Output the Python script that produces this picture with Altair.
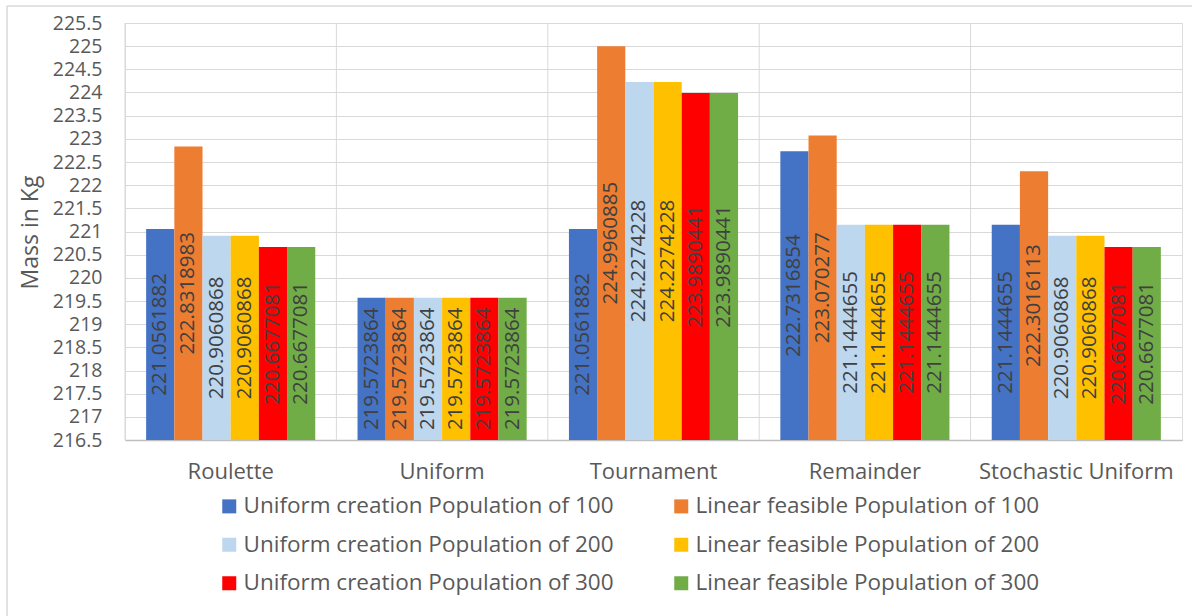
import altair as alt
import pandas as pd

# Selection methods on the x axis
methods = ["Roulette", "Uniform", "Tournament", "Remainder", "Stochastic Uniform"]

# Population set-ups, in bar order
series = [
    "Uniform creation Population of 100",
    "Linear feasible Population of 100",
    "Uniform creation Population of 200",
    "Linear feasible Population of 200",
    "Uniform creation Population of 300",
    "Linear feasible Population of 300",
]
colors = ["#4472C4", "#ED7D31", "#BDD7EE", "#FFC000", "#FF0000", "#70AD47"]

# Best mass (kg) for each selection method, one list per population set-up
uniform_100 = [221.0561882, 219.5723864, 221.0561882, 222.7316854, 221.1444655]
linear_100 = [222.8318983, 219.5723864, 224.9960885, 223.070277, 222.3016113]
uniform_200 = [220.9060868, 219.5723864, 224.2274228, 221.1444655, 220.9060868]
linear_200 = [220.9060868, 219.5723864, 224.2274228, 221.1444655, 220.9060868]
uniform_300 = [220.6677081, 219.5723864, 223.9890441, 221.1444655, 220.6677081]
linear_300 = [220.6677081, 219.5723864, 223.9890441, 221.1444655, 220.6677081]

y_ticks = [216.5, 217, 217.5, 218, 218.5, 219, 219.5, 220, 220.5, 221,
           221.5, 222, 222.5, 223, 223.5, 224, 224.5, 225, 225.5]
y_min, y_max = 216.5, 225.5

all_values = [uniform_100, linear_100, uniform_200, linear_200, uniform_300, linear_300]
rows = []
for s, vals in zip(series, all_values):
    for m, v in zip(methods, vals):
        rows.append({"method": m, "series": s, "mass": v})
df = pd.DataFrame(rows)

# the legend fills column by column: uniform creation left, linear feasible right
legend_order = series[0::2] + series[1::2]
legend_colors = colors[0::2] + colors[1::2]

W, H = 1057, 417
FONT = "Open Sans"
GRID = "#D9D9D9"
TXT = "#595959"

x_axis = alt.Axis(
    title=None, labelAngle=0, labelAlign="center", labelLimit=400,
    ticks=False, grid=False,
    labelFontSize=22, labelColor=TXT, labelFont=FONT, labelPadding=21,
    domainColor="#BFBFBF", domainWidth=1.5,
)
y_axis = alt.Axis(
    title="Mass in Kg", values=y_ticks, labelExpr="'' + datum.value",
    ticks=False, gridColor=GRID, domainColor=GRID, labelOverlap=False,
    labelFontSize=19.5, labelColor=TXT, labelFont=FONT, labelPadding=23,
    titleFontSize=23, titleColor=TXT, titleFont=FONT, titleFontWeight="normal",
    titleAngle=270, titleX=-95, titleY=209, titleBaseline="middle",
    titleAlign="center",
)
x_scale = alt.Scale(paddingInner=0, paddingOuter=0)
xo_scale = alt.Scale(paddingInner=0, paddingOuter=0.75)
y_scale = alt.Scale(domain=[y_min, y_max], nice=False, zero=False)

base = alt.Chart(df).transform_calculate(
    base=str(y_min),
    mid="(datum.mass + %s) / 2" % y_min,
    label="'' + datum.mass",
)

bars = base.mark_bar().encode(
    x=alt.X("method:N", sort=methods, scale=x_scale, axis=x_axis),
    xOffset=alt.XOffset("series:N", sort=series, scale=xo_scale),
    y=alt.Y("mass:Q", scale=y_scale, axis=y_axis),
    y2="base:Q",
    color=alt.Color(
        "series:N",
        scale=alt.Scale(domain=legend_order, range=legend_colors),
        legend=alt.Legend(
            title=None, orient="none", legendX=93, legendY=472, columns=2,
            symbolType="square", symbolSize=196, symbolStrokeWidth=0,
            labelFontSize=22.5, labelColor=TXT, labelFont=FONT, labelLimit=700,
            rowPadding=15.5, columnPadding=56, symbolOffset=0, labelOffset=3,
        ),
    ),
)

# value labels, rotated and centred inside each bar
labels = base.mark_text(
    angle=270, align="center", baseline="middle",
    fontSize=20.5, font=FONT, color="#404040",
).encode(
    x=alt.X("method:N", sort=methods, scale=x_scale, axis=x_axis),
    xOffset=alt.XOffset("series:N", sort=series, scale=xo_scale),
    y=alt.Y("mid:Q", scale=y_scale, axis=y_axis),
    text="label:N",
)

# vertical separators: shifted half a band left, onto each method's left edge
separators = alt.Chart(pd.DataFrame({"method": methods})).mark_rule(
    color=GRID, strokeWidth=1, xOffset=-W / len(methods) / 2
).encode(
    x=alt.X("method:N", sort=methods, scale=x_scale, axis=x_axis),
    y=alt.value(0), y2=alt.value(H),
)

# outer frame of the figure (top and left edges)
frame_top = alt.Chart(pd.DataFrame({"k": [0]})).mark_rule(
    color="#D9D9D9", strokeWidth=1.5, clip=False
).encode(x=alt.value(-118), x2=alt.value(1192), y=alt.value(-17))
frame_left = alt.Chart(pd.DataFrame({"k": [0]})).mark_rule(
    color="#D9D9D9", strokeWidth=1.5, clip=False
).encode(x=alt.value(-118), y=alt.value(-17), y2=alt.value(620))

chart = (
    alt.layer(separators, bars, labels, frame_top, frame_left)
    .properties(
        width=W, height=H,
        autosize=alt.AutoSizeParams(type="none"),
        padding={"left": 125, "top": 23, "right": 10, "bottom": 176},
    )
    .configure_view(stroke=GRID, strokeWidth=1)
    .configure_axis(labelOverlap=False)
    .configure(background="white")
)

chart.save("out.html", embed_options={"renderer": "svg", "actions": False})
